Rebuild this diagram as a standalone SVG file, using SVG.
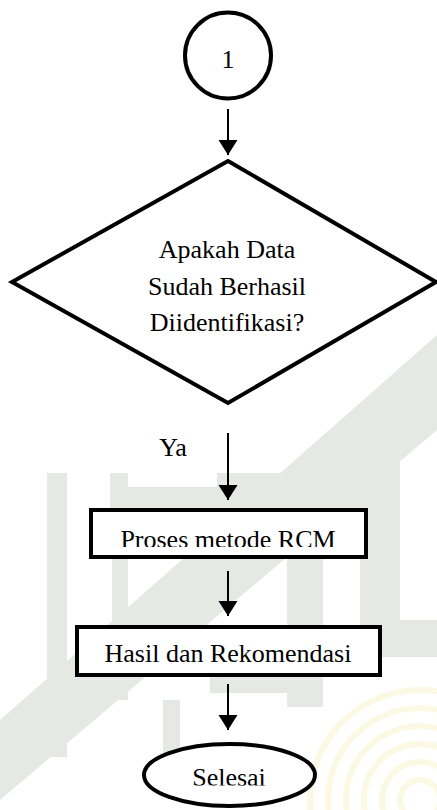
<svg xmlns="http://www.w3.org/2000/svg" width="437" height="810" viewBox="0 0 437 810">
<style>
.t{font-family:"Liberation Serif","Times New Roman",serif;font-size:26px;fill:#000;text-anchor:middle}
.s{fill:#fff;stroke:#000;stroke-width:4}
.c{stroke:#000;stroke-width:2;fill:none}
.wm{fill:#e6e9e3}
.wy{fill:none;stroke:#fbf9e3;stroke-width:6}
</style>
<defs>
<marker id="ah" markerUnits="userSpaceOnUse" markerWidth="16" markerHeight="20" refX="15" refY="9.5" orient="auto">
<path d="M0,0 L15,9.5 L0,19 Z" fill="#000"/>
</marker>
<clipPath id="clipP"><rect x="80" y="500" width="300" height="47"/></clipPath>
<clipPath id="clipS"><rect x="140" y="740" width="180" height="45.5"/></clipPath>
<clipPath id="clipY"><rect x="300" y="680" width="137" height="130"/></clipPath>
</defs>
<g id="watermark">
<polygon class="wm" points="437,335 437,430 0,800 0,720"/>
<rect class="wm" x="110" y="473" width="250" height="40"/>
<rect class="wm" x="112" y="473" width="16" height="227"/>
<rect class="wm" x="287" y="473" width="36" height="234"/>
<rect class="wm" x="360" y="443" width="40" height="214"/>
<rect class="wm" x="360" y="620" width="77" height="37"/>
<rect class="wm" x="47" y="473" width="20" height="284"/>
<rect class="wm" x="163" y="700" width="17" height="97"/>
<rect class="wm" x="210" y="677" width="113" height="16"/>
<g clip-path="url(#clipY)">
<circle class="wy" cx="420" cy="800" r="20"/>
<circle class="wy" cx="420" cy="800" r="38"/>
<circle class="wy" cx="420" cy="800" r="56"/>
<circle class="wy" cx="420" cy="800" r="74"/>
<circle class="wy" cx="420" cy="800" r="92"/>
<circle class="wy" cx="420" cy="800" r="110"/>
</g>
<rect x="128" y="420" width="89" height="67" fill="#fff"/>
</g>
<g id="n1">
<circle class="s" cx="228" cy="55.5" r="43" stroke-width="4.5"/>
<text class="t" x="228" y="68" font-size="31">1</text>
</g>
<g id="n2">
<polygon class="s" points="228,161 436,282 228,403 12,282"/>
<text class="t" x="227" y="258">Apakah Data</text>
<text class="t" x="227" y="295">Sudah Berhasil</text>
<text class="t" x="227" y="331">Diidentifikasi?</text>
</g>
<g id="n3">
<rect class="s" x="91" y="510" width="275" height="47"/>
<text class="t" x="228" y="548" clip-path="url(#clipP)">Proses metode RCM</text>
</g>
<g id="n4">
<rect class="s" x="77" y="627" width="303" height="48"/>
<text class="t" x="228" y="662">Hasil dan Rekomendasi</text>
</g>
<g id="n5">
<ellipse class="s" cx="229.5" cy="775" rx="85.5" ry="31"/>
<text class="t" x="229" y="786" clip-path="url(#clipS)">Selesai</text>
</g>
<g id="connectors">
<line class="c" x1="228" y1="109" x2="228" y2="155" marker-end="url(#ah)"/>
<line class="c" x1="228" y1="433" x2="228" y2="500" marker-end="url(#ah)"/>
<line class="c" x1="228" y1="571" x2="228" y2="616" marker-end="url(#ah)"/>
<line class="c" x1="228" y1="684" x2="228" y2="730" marker-end="url(#ah)"/>
<text class="t" x="173" y="456">Ya</text>
</g>
</svg>
